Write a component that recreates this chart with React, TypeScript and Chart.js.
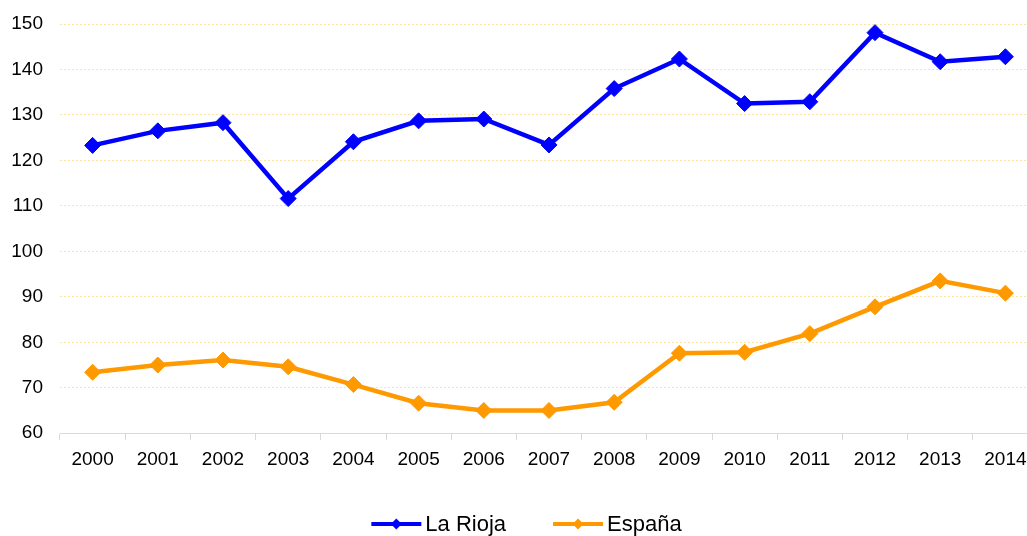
import React, { useEffect, useRef } from "react";
import { Chart, registerables } from "chart.js";

Chart.register(...registerables);

const years = ["2000","2001","2002","2003","2004","2005","2006","2007","2008","2009","2010","2011","2012","2013","2014"];
const laRioja = [123.3, 126.5, 128.3, 111.6, 124.1, 128.7, 129.1, 123.4, 135.8, 142.3, 132.5, 132.9, 148.1, 141.7, 142.8];
const espana = [73.4, 75.0, 76.1, 74.6, 70.7, 66.6, 65.0, 65.0, 66.8, 77.6, 77.8, 81.9, 87.8, 93.5, 90.8];
const seriesNames = ["La Rioja", "España"];
const seriesColors = ["#0000FF", "#FF9900"];

const FONT = "'Liberation Sans', Arial, Helvetica, sans-serif";
const VIEW_W = 1027;

const customLegend = {
  id: "customLegend",
  afterDraw(chart: any) {
    const ctx = chart.ctx;
    const items = chart.data.datasets.map((d: any) => ({ label: d.label, color: d.borderColor }));
    ctx.save();
    ctx.font = `22px ${FONT}`;
    const lineW = 50;
    const gapText = 4;
    const gapItems = 47;
    const widths = items.map((it: any) => lineW + gapText + ctx.measureText(it.label).width);
    const total = widths.reduce((a: number, b: number) => a + b, 0) + gapItems * (items.length - 1);
    let x = (VIEW_W - total) / 2 + 13;
    const y = 524;
    items.forEach((it: any, i: number) => {
      ctx.strokeStyle = it.color;
      ctx.fillStyle = it.color;
      ctx.lineWidth = 4;
      ctx.beginPath();
      ctx.moveTo(x, y);
      ctx.lineTo(x + lineW, y);
      ctx.stroke();
      const cx = x + lineW / 2;
      const r = 5.5;
      ctx.beginPath();
      ctx.moveTo(cx, y - r);
      ctx.lineTo(cx + r, y);
      ctx.lineTo(cx, y + r);
      ctx.lineTo(cx - r, y);
      ctx.closePath();
      ctx.fill();
      ctx.fillStyle = "#000";
      ctx.textBaseline = "middle";
      ctx.textAlign = "left";
      ctx.fillText(it.label, x + lineW + gapText, y + 1);
      x += widths[i] + gapItems;
    });
    ctx.restore();
  },
};

export default function App() {
  const ref = useRef<HTMLCanvasElement>(null);
  useEffect(() => {
    document.body.style.margin = "0";
    const chart = new Chart(ref.current as HTMLCanvasElement, {
      type: "line",
      data: {
        labels: years,
        datasets: [laRioja, espana].map((d, i) => ({
          label: seriesNames[i],
          data: d,
          borderColor: seriesColors[i],
          backgroundColor: seriesColors[i],
          borderWidth: 4.5,
          pointStyle: "rectRot",
          pointRadius: 8,
          pointBorderWidth: 1,
          pointHoverRadius: 8,
          tension: 0,
        })),
      },
      options: {
        animation: false,
        responsive: false,
        maintainAspectRatio: false,
        layout: { padding: { left: 12, top: 24, right: 0, bottom: 57 } },
        plugins: { legend: { display: false }, tooltip: { enabled: false } },
        scales: {
          x: {
            offset: true,
            afterFit: (scale: any) => { scale.paddingLeft = 0; scale.paddingRight = 0; },
            grid: {
              offset: true,
              drawOnChartArea: false,
              drawTicks: true,
              tickLength: 7,
              color: "#d9d9d9",
            },
            border: { display: true, color: "#d9d9d9", width: 1 },
            ticks: { color: "#000", font: { family: FONT, size: 19 }, padding: 8 },
          },
          y: {
            min: 60,
            max: 150,
            afterFit: (scale: any) => { scale.width = 48; scale.paddingTop = 0; scale.paddingBottom = 0; },
            ticks: { stepSize: 10, color: "#000", font: { family: FONT, size: 19 }, padding: 17 },
            grid: { drawTicks: false, color: "#FFE3A0", lineWidth: 1 },
            border: { display: false, dash: [2, 2] },
          },
        },
      },
      plugins: [customLegend],
    });
    return () => chart.destroy();
  }, []);
  return (
    <div style={{ width: VIEW_W, height: 536, overflow: "hidden" }}>
      <canvas ref={ref} width={VIEW_W + 20} height={536} style={{ display: "block" }} />
    </div>
  );
}
